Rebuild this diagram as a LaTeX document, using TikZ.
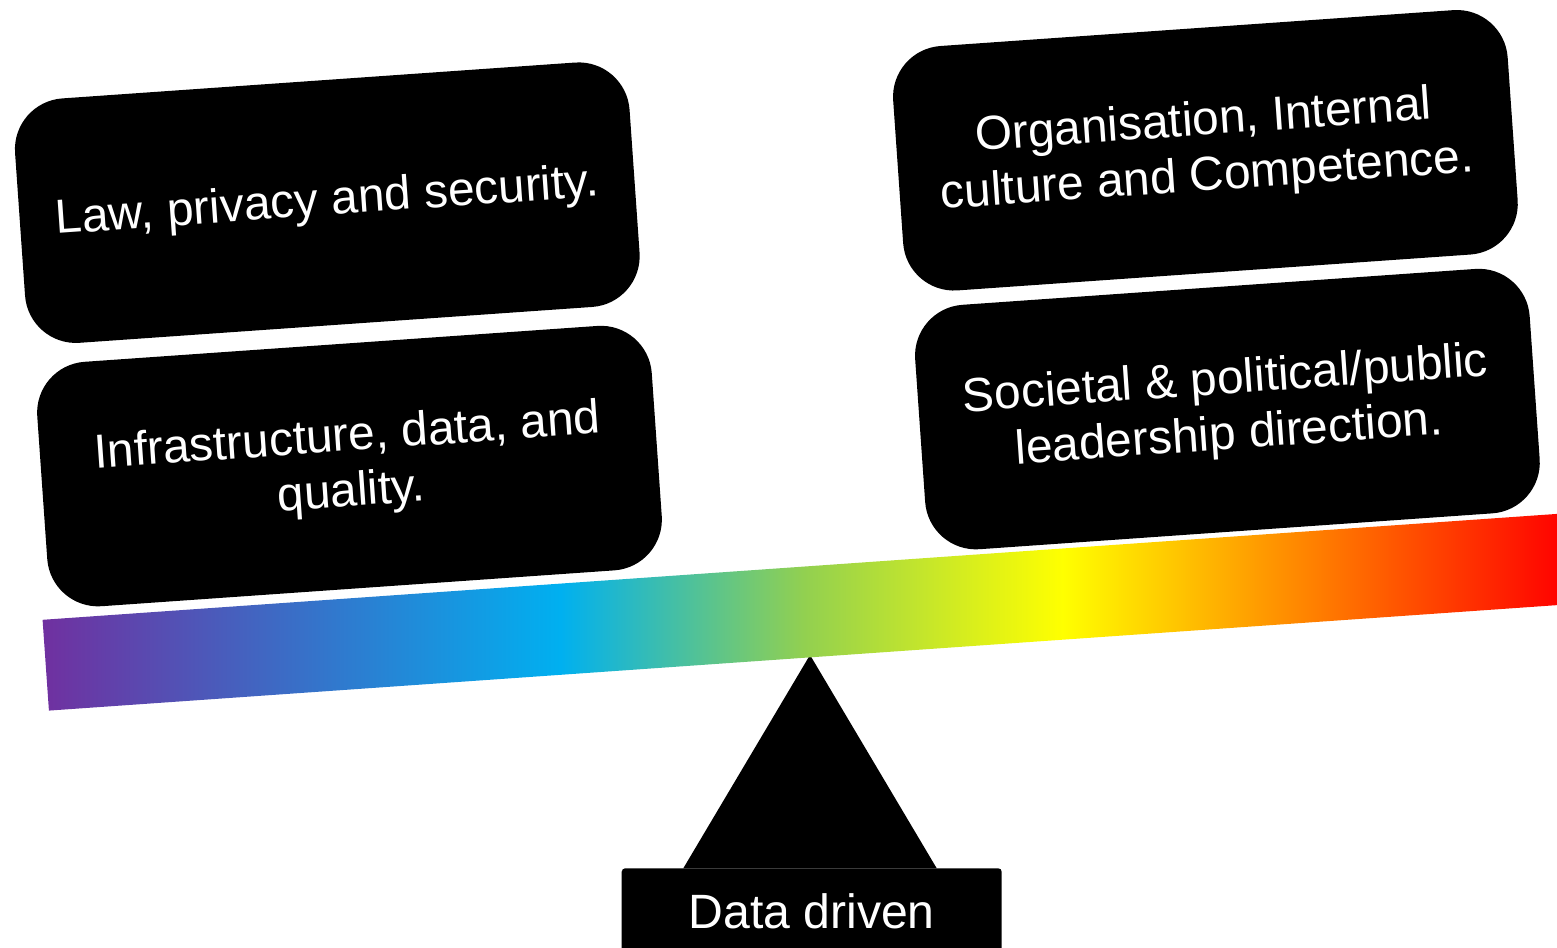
\documentclass[tikz,border=0pt]{standalone}
\usepackage{fontspec}
\setmainfont{Liberation Sans}

\definecolor{rbPurple}{HTML}{7030A0}
\definecolor{rbBlue}{HTML}{00B0F0}
\definecolor{rbGreen}{HTML}{92D050}
\definecolor{rbYellow}{HTML}{FFFF00}
\definecolor{rbRed}{HTML}{FF0000}
\pgfdeclarehorizontalshading{rainbow}{100bp}{color(0bp)=(rbPurple); color(25bp)=(rbPurple);
  color(42bp)=(rbBlue); color(50bp)=(rbGreen); color(58.5bp)=(rbYellow); color(75bp)=(rbRed); color(100bp)=(rbRed)}

\begin{document}
\begin{tikzpicture}[
  card/.style={fill=black, rounded corners=14.5pt, minimum width=6.16cm, minimum height=2.45cm,
    inner sep=0pt, text=white, align=center, font=\fontsize{13.6}{15.8}\selectfont, rotate=4},
  beam/.style={shade, shading=rainbow, minimum width=15.2cm, minimum height=0.91cm, inner sep=0pt, rotate=4},
  stand/.style={fill=black, rounded corners=1pt, minimum width=3.8cm, minimum height=0.854cm,
    inner sep=0pt, text=white, font=\fontsize{13.7}{16}\selectfont}
]
\useasboundingbox (0,0) rectangle (15.57,9.48);
\clip (0,0) rectangle (15.57,9.48);

% fulcrum
\coordinate (tip) at (8.10,2.93);
\coordinate (footL) at (6.833,0.797);
\coordinate (footR) at (9.367,0.797);
\path[fill=black] (tip) -- (footL) -- (footR) -- cycle;
\node[stand] (data) at (8.117,0.37) {Data driven};

% beam
\node[beam] (bar) at (8.039,3.358) {};

% weights
\node[card] (law) at (3.273,7.453) {Law, privacy and security.};
\node[card] (infra) at (3.495,4.819) {Infrastructure, data, and\\quality.};
\node[card] (org) at (12.054,7.977) {Organisation, Internal\\culture and Competence.};
\node[card] (soc) at (12.274,5.389) {Societal \& political/public\\leadership direction.};
\end{tikzpicture}
\end{document}
